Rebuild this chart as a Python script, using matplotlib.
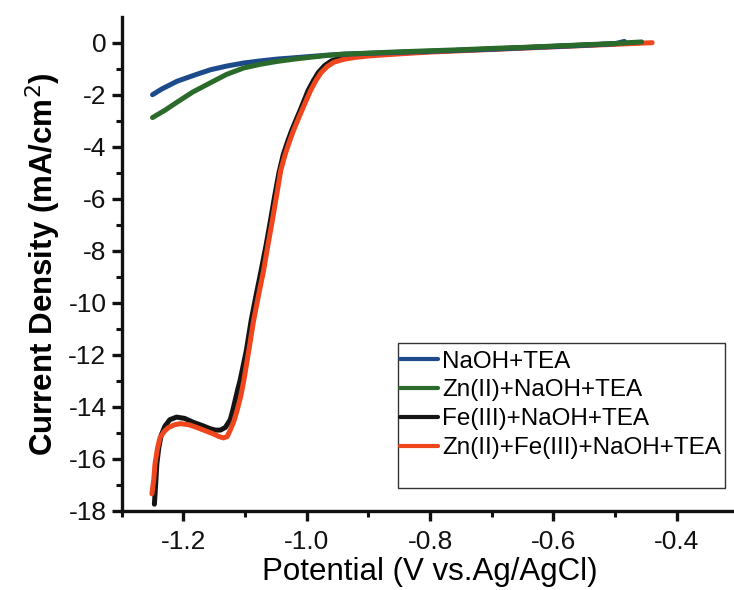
import matplotlib
matplotlib.use("Agg")
import matplotlib.pyplot as plt
from matplotlib.patches import Rectangle

plt.rcParams['font.family'] = ['Liberation Sans', 'DejaVu Sans']

# ---------------- data ----------------
labels = ["NaOH+TEA", "Zn(II)+NaOH+TEA", "Fe(III)+NaOH+TEA", "Zn(II)+Fe(III)+NaOH+TEA"]

naoh_x = [-1.25, -1.235, -1.21, -1.18, -1.156, -1.13, -1.102, -1.075, -1.048, -1.02,
          -0.994, -0.967, -0.94, -0.90, -0.85, -0.80, -0.75, -0.70, -0.65, -0.60,
          -0.55, -0.50, -0.485]
naoh_y = [-2.0, -1.78, -1.48, -1.23, -1.04, -0.90, -0.78, -0.70, -0.63, -0.58,
          -0.53, -0.48, -0.44, -0.41, -0.37, -0.33, -0.29, -0.25, -0.20, -0.15,
          -0.10, -0.04, 0.05]

zn_x = [-1.25, -1.23, -1.211, -1.185, -1.156, -1.13, -1.102, -1.075, -1.048, -1.02,
        -0.994, -0.967, -0.94, -0.90, -0.85, -0.80, -0.75, -0.70, -0.65, -0.60,
        -0.55, -0.50, -0.457]
zn_y = [-2.88, -2.60, -2.30, -1.90, -1.54, -1.22, -0.97, -0.83, -0.72, -0.63,
        -0.56, -0.49, -0.44, -0.40, -0.35, -0.31, -0.27, -0.22, -0.18, -0.13,
        -0.08, -0.03, 0.03]

fe_x = [-1.247, -1.245, -1.243, -1.240, -1.236, -1.230, -1.222, -1.211, -1.198, -1.184,
        -1.170, -1.156, -1.148, -1.140, -1.132, -1.124, -1.120, -1.116, -1.112, -1.108,
        -1.098, -1.090, -1.082, -1.074, -1.066, -1.059, -1.052, -1.045, -1.038, -1.031,
        -1.024, -1.017, -1.010, -0.998, -0.989, -0.981, -0.971, -0.960, -0.946, -0.928,
        -0.90, -0.85, -0.80, -0.75, -0.70, -0.65, -0.60, -0.55, -0.50, -0.46]
fe_y = [-17.75, -17.0, -16.2, -15.6, -15.1, -14.75, -14.5, -14.4, -14.45, -14.6,
        -14.72, -14.85, -14.9, -14.9, -14.8, -14.5, -14.15, -13.75, -13.35, -12.98,
        -11.85, -10.67, -9.7, -8.77, -7.8, -6.87, -5.9, -5.0, -4.3, -3.8,
        -3.35, -2.95, -2.56, -1.85, -1.45, -1.14, -0.88, -0.70, -0.60, -0.54,
        -0.48, -0.40, -0.34, -0.29, -0.24, -0.19, -0.14, -0.09, -0.04, 0.0]

znfe_x = [-1.251, -1.248, -1.246, -1.242, -1.238, -1.231, -1.224, -1.215, -1.205, -1.19,
          -1.178, -1.165, -1.151, -1.142, -1.135, -1.129, -1.124, -1.118, -1.113, -1.107,
          -1.102, -1.094, -1.086, -1.078, -1.070, -1.063, -1.056, -1.049, -1.042, -1.035,
          -1.028, -1.021, -1.014, -1.007, -0.994, -0.985, -0.977, -0.967, -0.956, -0.94,
          -0.923, -0.90, -0.85, -0.80, -0.75, -0.70, -0.65, -0.60, -0.55, -0.50,
          -0.46, -0.44]
znfe_y = [-17.35, -16.8, -16.2, -15.6, -15.2, -14.95, -14.8, -14.7, -14.65, -14.7,
          -14.8, -14.92, -15.05, -15.15, -15.2, -15.15, -14.9, -14.55, -14.15, -13.6,
          -13.0, -11.85, -10.67, -9.7, -8.77, -7.8, -6.87, -5.9, -4.9, -4.3,
          -3.8, -3.35, -2.95, -2.56, -1.85, -1.45, -1.16, -0.92, -0.75, -0.64,
          -0.57, -0.51, -0.43, -0.36, -0.31, -0.26, -0.21, -0.16, -0.11, -0.06,
          -0.02, 0.0]

xticks = [-1.2, -1.0, -0.8, -0.6, -0.4]
xticklabels = ["-1.2", "-1.0", "-0.8", "-0.6", "-0.4"]
yticks = [0, -2, -4, -6, -8, -10, -12, -14, -16, -18]
yticklabels = ["0", "-2", "-4", "-6", "-8", "-10", "-12", "-14", "-16", "-18"]

colors = ["#1c4a8a", "#2a6a2a", "#141414", "#f0461e"]

# ---------------- figure ----------------
fig = plt.figure(figsize=(7.34, 5.90), dpi=100)
ax = fig.add_axes([0.1658, 0.1344, 0.8403, 0.8373])

lw = 3.6
l_fe, = ax.plot(fe_x, fe_y, color=colors[2], lw=lw, zorder=2, solid_capstyle='round')
l_znfe, = ax.plot(znfe_x, znfe_y, color=colors[3], lw=lw, zorder=3, solid_capstyle='round')
l_naoh, = ax.plot(naoh_x, naoh_y, color=colors[0], lw=lw, zorder=4, solid_capstyle='round')
l_zn, = ax.plot(zn_x, zn_y, color=colors[1], lw=lw, zorder=5, solid_capstyle='round')

ax.set_xlim(-1.3, -0.3)
ax.set_ylim(-18, 1)

ax.set_xticks(xticks)
ax.set_xticklabels(xticklabels)
ax.set_xticks([-1.3, -1.1, -0.9, -0.7, -0.5, -0.3], minor=True)
ax.set_yticks(yticks)
ax.set_yticklabels(yticklabels)
ax.set_yticks([-1, -3, -5, -7, -9, -11, -13, -15, -17], minor=True)

for s in ['top', 'right']:
    ax.spines[s].set_visible(False)
for s in ['left', 'bottom']:
    ax.spines[s].set_linewidth(2.4)
    ax.spines[s].set_color('#111111')

ax.tick_params(which='major', direction='out', length=7, width=2.4, labelsize=19,
               colors='#111111', pad=4)
ax.tick_params(which='major', axis='x', pad=7)
ax.tick_params(which='minor', direction='out', length=4.5, width=2.2, colors='#111111')

ax.set_xlabel("Potential (V vs.Ag/AgCl)", fontsize=22.5, labelpad=2)
ax.set_ylabel("Current Density (mA/cm$^2$)", fontsize=22.5, fontweight='bold', labelpad=4)

# legend frame + legend
rect = Rectangle((0.448, 0.046), 0.530, 0.294, transform=ax.transAxes,
                 facecolor='white', edgecolor='#333333', lw=1.0, zorder=6)
ax.add_patch(rect)
leg = ax.legend([l_naoh, l_zn, l_fe, l_znfe], labels, loc='upper left',
                bbox_to_anchor=(0.452, 0.324), frameon=False, fontsize=17.5,
                handlelength=1.55, handletextpad=0.15, labelspacing=0.28,
                borderpad=0, borderaxespad=0)
leg.set_zorder(7)
for h in leg.get_lines():
    h.set_linewidth(3.0)

fig.savefig("out.png", dpi=100)
